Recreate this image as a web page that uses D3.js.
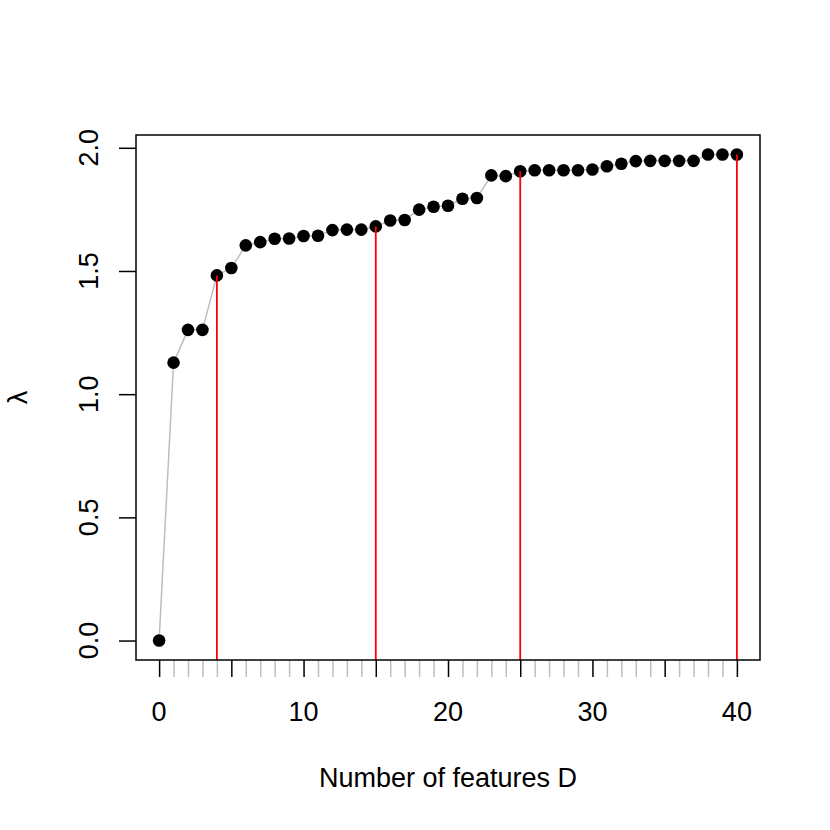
<!DOCTYPE html>
<html>
<head>
<meta charset="utf-8">
<script src="https://cdn.jsdelivr.net/npm/d3@7"></script>
<style>
  html, body { margin: 0; padding: 0; background: #fff; }
  svg { display: block; font-family: "Liberation Sans", Arial, Helvetica, sans-serif; }
</style>
</head>
<body>
<svg id="chart" width="830" height="830"></svg>
<script>
// ---- data ----
const features = d3.range(0, 41);
const lambda = [
  0.000, 1.128, 1.261, 1.261, 1.482, 1.512, 1.604, 1.617, 1.631, 1.632,
  1.642, 1.643, 1.666, 1.668, 1.668, 1.681, 1.705, 1.707, 1.749, 1.761,
  1.765, 1.793, 1.796, 1.888, 1.885, 1.905, 1.909, 1.909, 1.909, 1.909,
  1.912, 1.925, 1.935, 1.946, 1.947, 1.947, 1.947, 1.947, 1.973, 1.973,
  1.973
];
const highlighted = [4, 15, 25, 40];
const xMajorTicks = [0, 5, 10, 15, 20, 25, 30, 35, 40];
const xLabelTicks = [0, 10, 20, 30, 40];
const yTicks = [0, 0.5, 1.0, 1.5, 2.0];
const xTitle = "Number of features D";
const yTitle = "λ";

// ---- layout ----
const L = 136, R = 760, T = 135, B = 660;
const svg = d3.select("#chart");
const data = features.map((d, i) => ({ x: d, y: lambda[i] }));

function rExt([a, b]) { const r = b - a; return [a - 0.04 * r, b + 0.04 * r]; }
const x = d3.scaleLinear().domain(rExt(d3.extent(features))).range([L, R]);
const y = d3.scaleLinear().domain(rExt(d3.extent(lambda))).range([B, T]);

const tickLen = 17;
const fs = 27;

// gray minor ticks (integers not multiples of 5)
const minor = features.filter(d => d % 5 !== 0);
svg.append("g").attr("transform", `translate(0,${B})`)
  .call(d3.axisBottom(x).tickValues(minor).tickSize(tickLen).tickFormat(""))
  .call(g => g.select(".domain").remove())
  .call(g => g.selectAll(".tick line").attr("stroke", "#bebebe").attr("stroke-width", 1.5));

// major ticks
svg.append("g").attr("transform", `translate(0,${B})`)
  .call(d3.axisBottom(x).tickValues(xMajorTicks).tickSize(tickLen).tickFormat(""))
  .call(g => g.select(".domain").remove())
  .call(g => g.selectAll(".tick line").attr("stroke", "#000").attr("stroke-width", 1.5));

// x labels
svg.append("g").selectAll("text").data(xLabelTicks).join("text")
  .attr("x", d => x(d)).attr("y", 721)
  .attr("text-anchor", "middle").attr("font-size", fs).attr("fill", "#000")
  .text(d => d);

// y axis
svg.append("g").attr("transform", `translate(${L},0)`)
  .call(d3.axisLeft(y).tickValues(yTicks).tickSize(tickLen).tickFormat(""))
  .call(g => g.select(".domain").remove())
  .call(g => g.selectAll(".tick line").attr("stroke", "#000").attr("stroke-width", 1.5));

svg.append("g").selectAll("text").data(yTicks).join("text")
  .attr("transform", d => `translate(98,${y(d)}) rotate(-90)`)
  .attr("text-anchor", "middle").attr("font-size", fs).attr("fill", "#000")
  .text(d => d3.format(".1f")(d));

// titles
svg.append("text").attr("x", (L + R) / 2).attr("y", 787)
  .attr("text-anchor", "middle").attr("font-size", fs).attr("fill", "#000")
  .text(xTitle);
svg.append("text").attr("transform", `translate(27,${(T + B) / 2}) rotate(-90)`)
  .attr("text-anchor", "middle").attr("font-size", fs).attr("fill", "#000")
  .text(yTitle);

// connecting line
svg.append("path").datum(data)
  .attr("fill", "none").attr("stroke", "#bebebe").attr("stroke-width", 1.5)
  .attr("d", d3.line().x(d => x(d.x)).y(d => y(d.y)));

// points
svg.append("g").selectAll("circle").data(data).join("circle")
  .attr("cx", d => x(d.x)).attr("cy", d => y(d.y)).attr("r", 6.3)
  .attr("fill", "#000");

// red vertical lines
svg.append("g").selectAll("line").data(highlighted).join("line")
  .attr("x1", d => x(d)).attr("x2", d => x(d))
  .attr("y1", d => y(lambda[features.indexOf(d)])).attr("y2", B)
  .attr("stroke", "#ff0000").attr("stroke-width", 1.8);

// box
svg.append("rect").attr("x", L).attr("y", T).attr("width", R - L).attr("height", B - T)
  .attr("fill", "none").attr("stroke", "#000").attr("stroke-width", 1.5);
</script>
</body>
</html>
